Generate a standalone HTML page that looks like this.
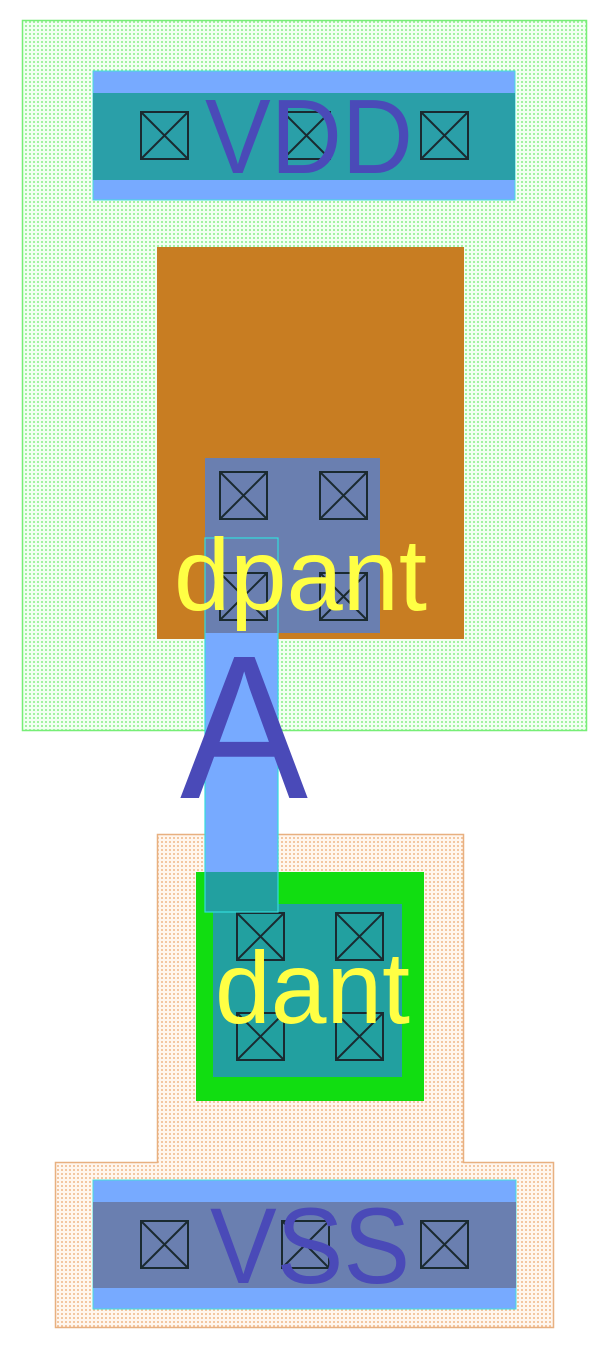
<!DOCTYPE html>
<html><head><meta charset="utf-8"><style>html,body{margin:0;padding:0;background:#fff}svg{display:block}</style></head>
<body>
<svg width="608" height="1350" viewBox="0 0 608 1350" xmlns="http://www.w3.org/2000/svg">
<defs>
<pattern id="gdot" width="4" height="4" patternUnits="userSpaceOnUse"><rect width="4" height="4" fill="#f2fff2"/><circle cx="2" cy="2" r="1" fill="#88ee88"/></pattern>
<pattern id="odot" width="4" height="4" patternUnits="userSpaceOnUse"><rect width="4" height="4" fill="#fff6ee"/><circle cx="2" cy="2" r="1" fill="#f0b888"/></pattern>
<g id="ct"><rect x="0" y="0" width="47" height="47" fill="none" stroke="#1a2a30" stroke-width="2"/><path d="M0 0L47 47M47 0L0 47" stroke="#1a2a30" stroke-width="2"/></g>
</defs>
<rect x="22.5" y="20.5" width="564" height="710" fill="url(#gdot)" stroke="#77ee77" stroke-width="1.5"/>
<rect x="93" y="71" width="422" height="129" fill="#77aaff" stroke="#44dddd" stroke-width="1"/>
<rect x="93" y="93" width="422" height="87" fill="#2a9fa8"/>
<use href="#ct" x="141" y="112"/><use href="#ct" x="283" y="112"/><use href="#ct" x="421" y="112"/>
<text x="205" y="173" font-family="Liberation Sans, sans-serif" font-size="106" fill="#4a4ab8" textLength="208" lengthAdjust="spacingAndGlyphs">VDD</text>
<rect x="157" y="247" width="307" height="392" fill="#c87d22"/>
<rect x="205" y="458" width="175" height="175" fill="#6a7fb0"/>
<use href="#ct" x="220" y="472"/><use href="#ct" x="320" y="472"/><use href="#ct" x="220" y="573"/><use href="#ct" x="320" y="573"/>
<path d="M157.5 834.5H463.5V1162.5H553.5V1327.5H55.5V1162.5H157.5Z" fill="url(#odot)" stroke="#e8b080" stroke-width="1.5"/>
<rect x="196" y="872" width="228" height="229" fill="#11dd11"/>
<rect x="213" y="904" width="189" height="173" fill="#22a0a0"/>
<use href="#ct" x="237" y="913"/><use href="#ct" x="336" y="913"/><use href="#ct" x="237" y="1013"/><use href="#ct" x="336" y="1013"/>
<rect x="205" y="633" width="73" height="239" fill="#77aaff"/>
<rect x="205" y="872" width="73" height="40" fill="#22a0a0"/>
<rect x="205" y="538" width="73" height="374" fill="none" stroke="#33dddd" stroke-width="1.2"/>
<text x="174" y="610" font-family="Liberation Sans, sans-serif" font-size="102" fill="#ffff44" textLength="253" lengthAdjust="spacingAndGlyphs">dpant</text>
<text x="180" y="798" font-family="Liberation Sans, sans-serif" font-size="205" fill="#4a4ab8" textLength="128" lengthAdjust="spacingAndGlyphs">A</text>
<text x="215" y="1023" font-family="Liberation Sans, sans-serif" font-size="102" fill="#ffff44" textLength="195" lengthAdjust="spacingAndGlyphs">dant</text>
<rect x="93" y="1180" width="423" height="129" fill="#77aaff" stroke="#44dddd" stroke-width="1"/>
<rect x="93" y="1202" width="423" height="86" fill="#6a7fb0"/>
<use href="#ct" x="141" y="1221"/><use href="#ct" x="282" y="1221"/><use href="#ct" x="421" y="1221"/>
<text x="210" y="1283" font-family="Liberation Sans, sans-serif" font-size="108" fill="#4a4ab8" textLength="200" lengthAdjust="spacingAndGlyphs">VSS</text>
</svg>
</body></html>
